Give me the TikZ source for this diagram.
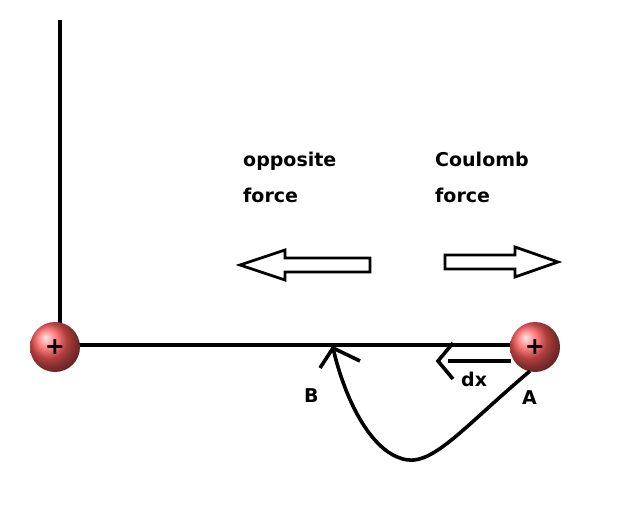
\documentclass[tikz,border=0pt]{standalone}
\usepackage{fontspec}
\setmainfont{DejaVu Sans}
\usetikzlibrary{arrows.meta}
\begin{document}
\begin{tikzpicture}[x=1pt,y=-1pt,
  wire/.style={line width=3.6pt,black},
  charge/.style={circle,minimum size=50pt,inner sep=0pt,ball color=red!65!white,shading=ball},
  hollow/.style={line width=2.8pt,black,fill=white,line join=miter},
  lbl/.style={font=\bfseries\fontsize{19}{36}\selectfont,align=left,inner sep=0pt,anchor=north west}]
\useasboundingbox (0,0) rectangle (639,526);
\coordinate (top) at (60,20);
\coordinate (corner) at (60,345);
\coordinate (end) at (535,345);
\draw[wire] (top) -- (corner) -- (end);
\node[charge] (q1) at (55,347) {};
\node[font=\bfseries\fontsize{24}{24}\selectfont] at (q1) {+};
\node[charge] (q2) at (535,347) {};
\node[font=\bfseries\fontsize{24}{24}\selectfont] at (q2) {+};
% hollow arrows
\draw[hollow] (370,258)--(285,258)--(285,250)--(240,265)--(285,280)--(285,272)--(370,272)--cycle;
\draw[hollow] (445,255)--(515,255)--(515,247)--(558,262)--(515,277)--(515,269)--(445,269)--cycle;
\coordinate (dxa) at (453,343);
\coordinate (dxt) at (438,361);
\coordinate (dxb) at (453,379);
\draw[line width=3.6pt,line join=miter] (dxa)--(dxt)--(dxb);
\draw[line width=3.6pt] (448,361)--(511,361);
\node[lbl] (t1) at (243,152) {opposite\\force};
\node[lbl] (t2) at (435,152) {Coulomb\\force};
\node[lbl] (dx) at (461,372) {dx};
\node[lbl] (B) at (304,388) {B};
\node[lbl] (A) at (522,390) {A};
\coordinate (cs) at (530,371);
\coordinate (cb) at (333,348);
\draw[line width=3.6pt] (cs) .. controls (460,430) and (430,470) .. (400,458) .. controls (370,448) and (345,400) .. (cb);
\draw[line width=3.6pt] (320,368) -- (cb) -- (360,361);
\end{tikzpicture}
\end{document}
